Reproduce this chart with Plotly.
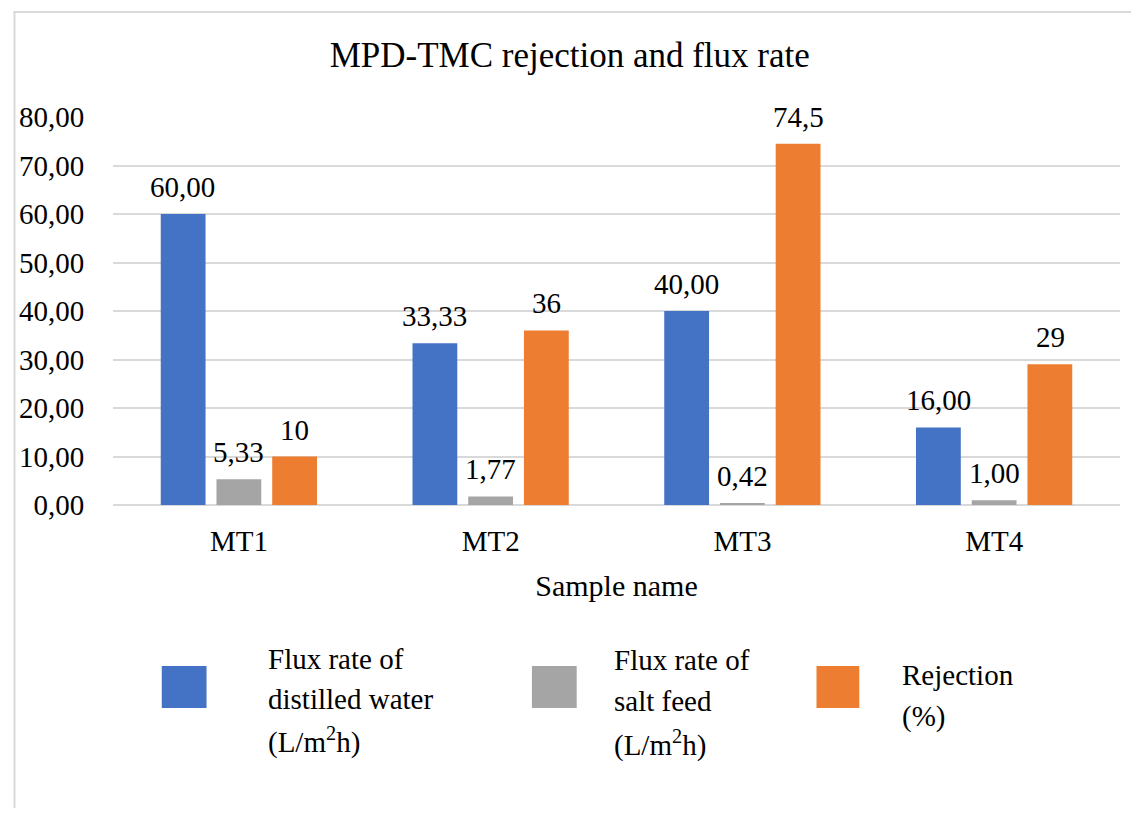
import plotly.graph_objects as go

categories = ["MT1", "MT2", "MT3", "MT4"]
flux_water = [60.00, 33.33, 40.00, 16.00]
flux_salt = [5.33, 1.77, 0.42, 1.00]
rejection = [10, 36, 74.5, 29]
labels_water = ["60,00", "33,33", "40,00", "16,00"]
labels_salt = ["5,33", "1,77", "0,42", "1,00"]
labels_rej = ["10", "36", "74,5", "29"]
series_names = [["Flux rate of", "distilled water", "(L/m<sup>2</sup>h)"],
                ["Flux rate of", "salt feed", "(L/m<sup>2</sup>h)"],
                ["Rejection", "(%)"]]
colors = ["#4472C4", "#A5A5A5", "#ED7D31"]
yticks = [0, 10, 20, 30, 40, 50, 60, 70, 80]
ytick_text = ["0,00", "10,00", "20,00", "30,00", "40,00", "50,00", "60,00", "70,00", "80,00"]

FONT = "Liberation Serif"
OX, OY = 8, 8  # page body margin
W, H = 1139 - 2 * OX, 816 - 2 * OY
PLOT_X0, PLOT_X1, PLOT_Y0, PLOT_Y1 = 108, 1120, 117, 505  # reference pixel coords
L, R, T = PLOT_X0 - OX, W - (PLOT_X1 - OX), PLOT_Y0 - OY
B = H - (PLOT_Y1 - OY)
PW, PH = W - L - R, H - T - B

def px(x):
    return (x - OX - L) / PW

def py(y):
    return (H - B - (y - OY)) / PH

fig = go.Figure()
annotations = []
shifts = [-56, 0, 56]
for vals, labs, col, nm, sh in zip([flux_water, flux_salt, rejection],
                                   [labels_water, labels_salt, labels_rej],
                                   colors, series_names, shifts):
    fig.add_trace(go.Bar(x=categories, y=vals,
                         marker=dict(color=col, line=dict(width=0)),
                         showlegend=False,
                         name=" ".join(nm).replace("<sup>", "").replace("</sup>", "")))
    for c, v, t in zip(categories, vals, labs):
        annotations.append(dict(x=c, y=v, xref="x", yref="y", text=t, showarrow=False,
                                xshift=sh, yshift=9, yanchor="bottom", xanchor="center",
                                font=dict(family=FONT, size=29, color="#000")))

shapes = [dict(type="rect", xref="paper", yref="paper", x0=px(9), x1=px(1400),
               y0=py(1000), y1=py(12), line=dict(color="#D9D9D9", width=2),
               fillcolor="rgba(0,0,0,0)", layer="below")]
legend_boxes = [(157, 202), (529, 574), (815, 858)]
legend_text_x = [262, 609, 899]
legend_line_y = [[659, 699, 740], [660, 701, 743], [675, 717]]
for (x0, x1), tx, ly, col, nm in zip(legend_boxes, legend_text_x, legend_line_y, colors, series_names):
    shapes.append(dict(type="rect", xref="paper", yref="paper", x0=px(x0), x1=px(x1),
                       y0=py(708), y1=py(666), fillcolor=col, line=dict(width=0)))
    for yy, line in zip(ly, nm):
        annotations.append(dict(xref="paper", yref="paper", x=px(tx), y=py(yy), text=line,
                                showarrow=False, xanchor="left", yanchor="middle",
                                font=dict(family=FONT, size=29, color="#000")))

fig.update_layout(
    width=W, height=H,
    margin=dict(l=L, r=R, t=T, b=B),
    paper_bgcolor="white", plot_bgcolor="white",
    title=dict(text="MPD-TMC rejection and flux rate", x=px(567), xanchor="center",
               xref="paper", y=1 - (55 - OY) / H, yanchor="middle",
               font=dict(family=FONT, size=35, color="#000")),
    barmode="group", bargap=0.336, bargroupgap=0.196,
    shapes=shapes, annotations=annotations,
    font=dict(family=FONT, color="#000"),
)
fig.update_yaxes(range=[0, 80], tickvals=yticks, ticktext=ytick_text,
                 showgrid=True, gridcolor="#D9D9D9", gridwidth=1.5,
                 zeroline=True, zerolinecolor="#D9D9D9", zerolinewidth=1.5,
                 showline=False, ticks="outside", ticklen=22, tickcolor="rgba(0,0,0,0)",
                 tickfont=dict(family=FONT, size=29, color="#000"))
fig.update_xaxes(showline=False, ticks="outside", ticklen=10, tickcolor="rgba(0,0,0,0)",
                 tickfont=dict(family=FONT, size=29, color="#000"),
                 title=dict(text="Sample name", standoff=19,
                            font=dict(family=FONT, size=30, color="#000")))

fig.write_html("out.html")
